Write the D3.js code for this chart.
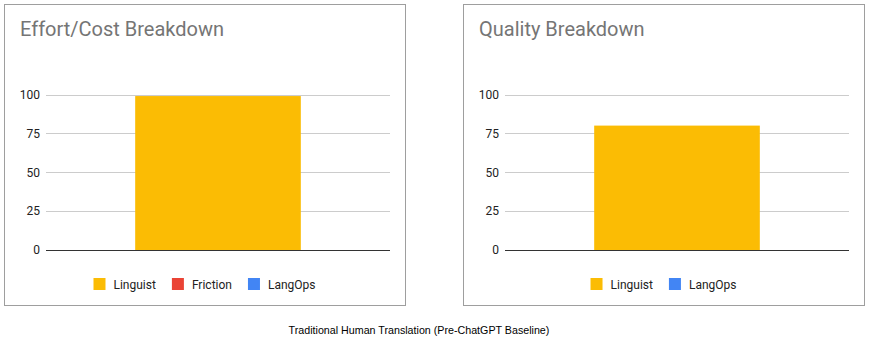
<!DOCTYPE html>
<html>
<head>
<meta charset="utf-8">
<script src="https://cdn.jsdelivr.net/npm/d3@7"></script>
<style>
  body { margin: 0; background: #fff; }
  svg { display: block; }
</style>
</head>
<body>
<div id="canvas"></div>
<script>
/* global d3 */

var width = 870, height = 346

// data
var category = ['Baseline']
var effortSeries = ['Linguist', 'Friction', 'LangOps']
var effortValues = [99, 0, 0]
var qualitySeries = ['Linguist', 'LangOps']
var qualityValues = [80, 0]
var yTicks = [0, 25, 50, 75, 100]
var colors = {Linguist: '#fbbc04', Friction: '#ea4335', LangOps: '#4285f4'}
var footer = 'Traditional Human Translation (Pre-ChatGPT Baseline)'

var svg = d3.select('#canvas')
  .append('svg')
  .attr('width', width)
  .attr('height', height)

function drawPanel (x0, title, series, values) {
  var pw = 401, ph = 301
  var g = svg.append('g').attr('transform', 'translate(' + x0 + ',4)')

  g.append('rect')
    .attr('x', 0.5).attr('y', 0.5)
    .attr('width', pw).attr('height', ph)
    .attr('fill', '#fff')
    .attr('stroke', '#9e9e9e')

  g.append('text')
    .attr('x', 16).attr('y', 32)
    .attr('font-family', 'Roboto')
    .attr('font-size', 20)
    .attr('fill', '#757575')
    .text(title)

  var plot = {left: 42, right: 386, top: 90.5, bottom: 246}

  var x = d3.scaleBand()
    .domain(category)
    .range([plot.left, plot.right])
    .padding(0.35)

  var y = d3.scaleLinear()
    .domain([0, 100])
    .range([plot.bottom, plot.top])

  // gridlines
  g.append('g')
    .selectAll('line')
    .data(yTicks.filter(d => d > 0))
    .enter()
    .append('line')
    .attr('x1', plot.left).attr('x2', plot.right)
    .attr('y1', d => Math.round(y(d)) + 0.5)
    .attr('y2', d => Math.round(y(d)) + 0.5)
    .attr('stroke', '#cccccc')

  var yAxis = g.append('g')
    .attr('transform', 'translate(' + (plot.left - 6) + ',0)')
    .call(d3.axisLeft(y).tickValues(yTicks).tickSize(0).tickPadding(0))
  yAxis.select('.domain').remove()
  yAxis.selectAll('text')
    .attr('font-family', 'Roboto')
    .attr('font-size', 12)
    .attr('fill', '#222')

  // stacked bars
  var row = {cat: category[0]}
  series.forEach((s, i) => { row[s] = values[i] })
  var stack = d3.stack().keys(series)([row])

  g.append('g')
    .selectAll('rect')
    .data(stack)
    .enter()
    .append('rect')
    .attr('x', d => x(d[0].data.cat))
    .attr('width', x.bandwidth())
    .attr('y', d => y(d[0][1]))
    .attr('height', d => y(d[0][0]) - y(d[0][1]))
    .attr('fill', d => colors[d.key])

  // zero line
  g.append('line')
    .attr('x1', plot.left).attr('x2', plot.right)
    .attr('y1', y(0) + 0.5).attr('y2', y(0) + 0.5)
    .attr('stroke', '#333')

  // legend
  var gap = 16
  var items = series.map(s => ({name: s, w: 12 + 8 + textWidth(s) + gap}))
  var total = d3.sum(items, d => d.w) - gap
  var lx = pw / 2 - total / 2
  var leg = g.append('g')
  items.forEach(d => {
    leg.append('rect')
      .attr('x', lx).attr('y', 274)
      .attr('width', 12).attr('height', 12)
      .attr('fill', colors[d.name])
    leg.append('text')
      .attr('x', lx + 20).attr('y', 284.5)
      .attr('font-family', 'Roboto')
      .attr('font-size', 12)
      .attr('fill', '#222')
      .text(d.name)
    lx += d.w
  })
}

var measure = svg.append('text')
  .attr('font-family', 'Roboto')
  .attr('font-size', 12)
function textWidth (s) {
  measure.text(s)
  var w = measure.node().getComputedTextLength()
  return w
}

drawPanel(4, 'Effort/Cost Breakdown', effortSeries, effortValues)
drawPanel(463, 'Quality Breakdown', qualitySeries, qualityValues)
measure.remove()

svg.append('text')
  .attr('x', 419).attr('y', 334)
  .attr('text-anchor', 'middle')
  .attr('font-family', 'Arial, "Liberation Sans"')
  .attr('font-size', 10.7)
  .attr('fill', '#000')
  .text(footer)
</script>
</body>
</html>
